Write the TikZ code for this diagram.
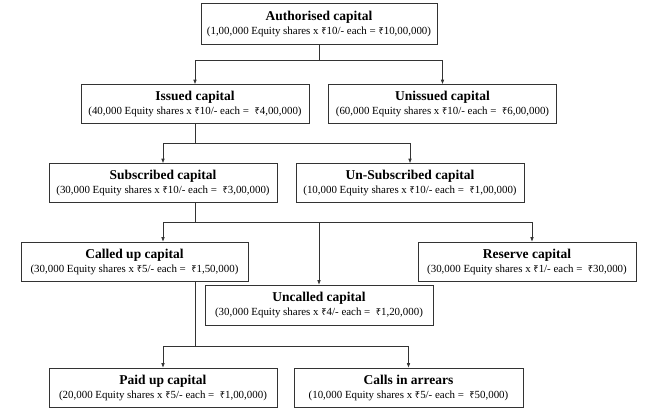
\documentclass[tikz,border=0pt]{standalone}
\usepackage{fontspec}
\setmainfont{Liberation Serif}
\newfontfamily\rupeefont{Noto Sans}
\usetikzlibrary{arrows.meta}
\newcommand{\rs}{{\rupeefont\fontsize{9.3}{10}\selectfont ₹}}
\tikzset{
  capbox/.style={draw=black!80, line width=0.6pt, rectangle, inner sep=0pt, align=center,
    minimum width=228pt, minimum height=39pt, font=\fontsize{10.9}{14}\selectfont},
  conn/.style={draw=black!80, line width=0.6pt},
  arr/.style={conn, -{Latex[length=4.5pt,width=3.6pt]}},
}
\newcommand{\ttl}[1]{{\fontsize{13.5}{15}\selectfont\bfseries #1}}
\begin{document}
\begin{tikzpicture}[x=1pt,y=-1pt]
\useasboundingbox (0,0) rectangle (657,418);
\node[capbox, minimum width=236pt, minimum height=41pt] (auth) at (319,23.5)
  {\ttl{Authorised capital}\\(1,00,000 Equity shares x \rs10/- each = \rs10,00,000)};
\node[capbox] (issued) at (195,104)
  {\ttl{Issued capital}\\(40,000 Equity shares x \rs10/- each = \ \rs4,00,000)};
\node[capbox] (unissued) at (442.5,104)
  {\ttl{Unissued capital}\\(60,000 Equity shares x \rs10/- each = \ \rs6,00,000)};
\node[capbox] (subs) at (163,183)
  {\ttl{Subscribed capital}\\(30,000 Equity shares x \rs10/- each = \ \rs3,00,000)};
\node[capbox] (unsubs) at (410,183)
  {\ttl{Un-Subscribed capital}\\(10,000 Equity shares x \rs10/- each = \ \rs1,00,000)};
\node[capbox, minimum width=227pt] (called) at (134.5,261.5)
  {\ttl{Called up capital}\\(30,000 Equity shares x \rs5/- each = \ \rs1,50,000)};
\node[capbox, minimum width=218pt] (reserve) at (527,261.5)
  {\ttl{Reserve capital}\\(30,000 Equity shares x \rs1/- each = \ \rs30,000)};
\node[capbox, minimum height=40pt] (uncalled) at (319,305)
  {\ttl{Uncalled capital}\\(30,000 Equity shares x \rs4/- each = \ \rs1,20,000)};
\node[capbox] (paid) at (163,387.5)
  {\ttl{Paid up capital}\\(20,000 Equity shares x \rs5/- each = \ \rs1,00,000)};
\node[capbox, minimum width=229pt] (arrears) at (408.5,387.5)
  {\ttl{Calls in arrears}\\(10,000 Equity shares x \rs5/- each = \ \rs50,000)};
% level 1
\coordinate (j1) at (319,60);
\draw[conn] (auth.south) -- (j1);
\draw[arr] (j1) -| (issued.north);
\draw[arr] (j1) -| (unissued.north);
% level 2
\coordinate (j2) at (195,143);
\draw[conn] (issued.south) -- (j2);
\draw[arr] (j2) -| (subs.north);
\draw[arr] (j2) -| (unsubs.north);
% level 3
\coordinate (s3) at (195,202);
\coordinate (j3) at (195,222);
\draw[conn] (s3) -- (j3);
\draw[arr] (j3) -| ([xshift=28.5pt]called.north);
\draw[arr] (j3) -| ([xshift=5pt]reserve.north);
\draw[arr] (j3) -| (uncalled.north);
% level 4
\coordinate (s4) at (195,281);
\coordinate (j4) at (195,346);
\draw[conn] (s4) -- (j4);
\draw[arr] (j4) -| (paid.north);
\draw[arr] (j4) -| (arrears.north);
\end{tikzpicture}
\end{document}
